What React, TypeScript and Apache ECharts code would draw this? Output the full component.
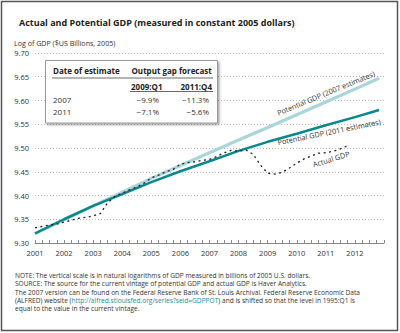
import React, { useEffect, useRef } from "react";
import * as echarts from "echarts";

// ---- Data ----
const potentialYears = [2001, 2002, 2003, 2004, 2005, 2006, 2007, 2008, 2009, 2010, 2011, 2012, 2012.83];
const potential2007 = [9.320, 9.349, 9.378, 9.407, 9.436, 9.463, 9.490, 9.517, 9.543, 9.570, 9.597, 9.624, 9.647];
const potential2011 = [9.320, 9.350, 9.378, 9.403, 9.428, 9.451, 9.472, 9.494, 9.513, 9.530, 9.548, 9.565, 9.580];

const actualStartYear = 2001; // quarterly observations, 2001:Q1 .. 2011:Q4
const actualGDP = [
  9.332, 9.335, 9.338, 9.340,
  9.344, 9.348, 9.352, 9.354,
  9.357, 9.362, 9.385, 9.398,
  9.405, 9.412, 9.418, 9.426,
  9.437, 9.443, 9.450, 9.455,
  9.466, 9.469, 9.471, 9.474,
  9.476, 9.482, 9.490, 9.495,
  9.493, 9.496, 9.487, 9.464,
  9.447, 9.445, 9.449, 9.458,
  9.468, 9.477, 9.483, 9.489,
  9.490, 9.493, 9.498, 9.505,
];

const xTickYears = [2001, 2002, 2003, 2004, 2005, 2006, 2007, 2008, 2009, 2010, 2011, 2012];

const tableHeader = ["Date of estimate", "Output gap forecast"];
const tableSubHeader = ["2009:Q1", "2011:Q4"];
const tableRows = [
  ["2007", "\u22129.9%", "\u221211.3%"],
  ["2011", "\u22127.1%", "\u22125.6%"],
];

const footnotes = [
  "NOTE: The vertical scale is in natural logarithms of GDP measured in billions of 2005 U.S. dollars.",
  "SOURCE: The source for the current vintage of potential GDP and actual GDP is Haver Analytics.",
  "The 2007 version can be found on the Federal Reserve Bank of St. Louis Archival. Federal Reserve Economic Data",
];
const footLine4 = ["(ALFRED) website (", "http://alfred.stlouisfed.org/series?seid=GDPPOT", ") and is shifted so that the level in 1995:Q1 is"];
const footLine5 = "equal to the value in the current vintage.";

const FONT = "'Open Sans', 'Noto Sans', sans-serif";
const LIGHT = "#a8d6d9";
const TEAL = "#08888d";

export default function App() {
  const ref = useRef<HTMLDivElement>(null);
  useEffect(() => {
    document.body.style.margin = "0";
    const chart = echarts.init(ref.current!, null, { renderer: "svg" });
    const actualData = actualGDP.map((v, i) => [actualStartYear + i / 4, v]);
    chart.setOption({
      animation: false,
      backgroundColor: "#fff",
      textStyle: { fontFamily: FONT },
      title: {
        text: "Actual and Potential GDP (measured in constant 2005 dollars)",
        left: 14,
        top: 13,
        textStyle: { fontSize: 9, fontWeight: "bold", color: "#222", fontFamily: FONT },
      },
      grid: { left: 35, right: 16, top: 53, bottom: 90 },
      xAxis: {
        type: "value",
        min: 2001,
        max: 2013,
        interval: 1,
        axisLine: { lineStyle: { color: "#888", width: 1 } },
        axisTick: { inside: true, length: 3, lineStyle: { color: "#888" } },
        minorTick: { show: true, splitNumber: 4, length: 3, lineStyle: { color: "#888" } },
        splitLine: { show: false },
        axisLabel: {
          formatter: (v: number) => (xTickYears.includes(v) ? String(v) : ""),
          fontSize: 7.5,
          color: "#333",
          margin: 6,
        },
      },
      yAxis: {
        type: "value",
        min: 9.3,
        max: 9.7,
        interval: 0.05,
        axisLine: { show: false },
        axisTick: { show: false },
        splitLine: { lineStyle: { type: [1, 2], color: "#aaa", width: 0.8 } },
        axisLabel: {
          formatter: (v: number) => v.toFixed(2),
          fontSize: 7.5,
          color: "#333",
          margin: 6,
        },
      },
      series: [
        {
          name: "Potential GDP (2007 estimates)",
          type: "line",
          data: potentialYears.map((y, i) => [y, potential2007[i]]),
          showSymbol: false,
          lineStyle: { color: LIGHT, width: 3.2 },
          z: 2,
        },
        {
          name: "Potential GDP (2011 estimates)",
          type: "line",
          data: potentialYears.map((y, i) => [y, potential2011[i]]),
          showSymbol: false,
          lineStyle: { color: TEAL, width: 2.5 },
          z: 3,
        },
        {
          name: "Actual GDP",
          type: "line",
          data: actualData,
          showSymbol: false,
          lineStyle: { color: "#222", width: 1.3, type: [2, 3.5] },
          z: 4,
        },
      ],
    });

    const px = (x: number, y: number) => chart.convertToPixel({ gridIndex: 0 }, [x, y]) as number[];
    const p1 = px(2011.0, 9.616);
    const p2 = px(2011.11, 9.534);
    const p3 = px(2011.18, 9.477);
    const annStyle = { fontSize: 7.3, fill: "#333", fontFamily: FONT, align: "center", verticalAlign: "middle" };
    const bold = { fontFamily: FONT, fontSize: 8, fontWeight: "bold", fill: "#222", verticalAlign: "middle" };
    const norm = { fontFamily: FONT, fontSize: 8, fill: "#333", verticalAlign: "middle" };
    const footStyle = { fontFamily: FONT, fontSize: 6.6, fill: "#333", verticalAlign: "middle" };

    chart.setOption({
      graphic: [
        { type: "rect", shape: { x: 1.5, y: 1.5, width: 396, height: 329 }, style: { fill: "none", stroke: "#555", lineWidth: 1.5 }, z: 100 },
        { type: "text", x: 14, y: 43, style: { text: "Log of GDP ($US Billions, 2005)", fontFamily: FONT, fontSize: 7.1, fill: "#333", verticalAlign: "middle" } },
        { type: "text", x: p1[0], y: p1[1], rotation: (22.4 * Math.PI) / 180, style: { text: "Potential GDP (2007 estimates)", ...annStyle } },
        { type: "text", x: p2[0], y: p2[1], rotation: (11.5 * Math.PI) / 180, style: { text: "Potential GDP (2011 estimates)", ...annStyle } },
        { type: "text", x: p3[0], y: p3[1], rotation: (17 * Math.PI) / 180, style: { text: "Actual GDP", ...annStyle } },
        // table box
        {
          type: "rect",
          shape: { x: 45.5, y: 60.5, width: 172, height: 62.5 },
          style: { fill: "#fff", stroke: "#999", lineWidth: 1, shadowBlur: 2, shadowOffsetX: 1.5, shadowOffsetY: 1.5, shadowColor: "rgba(0,0,0,0.35)" },
          z: 10,
        },
        { type: "text", x: 53, y: 70, z: 11, style: { text: tableHeader[0], ...bold } },
        { type: "text", x: 131.5, y: 70, z: 11, style: { text: tableHeader[1], ...bold } },
        { type: "line", z: 11, shape: { x1: 52, y1: 78, x2: 213, y2: 78 }, style: { stroke: "#444", lineWidth: 0.8 } },
        { type: "text", x: 131, y: 86, z: 11, style: { text: tableSubHeader[0], ...bold } },
        { type: "text", x: 180.5, y: 86, z: 11, style: { text: tableSubHeader[1], ...bold } },
        { type: "line", z: 11, shape: { x1: 130, y1: 91.5, x2: 213, y2: 91.5 }, style: { stroke: "#444", lineWidth: 0.8 } },
        ...tableRows.flatMap((row, i) => [
          { type: "text", x: 53, y: 99.5 + i * 12, z: 11, style: { text: row[0], ...norm } },
          { type: "text", x: 159, y: 99.5 + i * 12, z: 11, style: { text: row[1], ...norm, align: "right" } },
          { type: "text", x: 209, y: 99.5 + i * 12, z: 11, style: { text: row[2], ...norm, align: "right" } },
        ]),
        ...footnotes.map((t, i) => ({ type: "text", x: 15, y: 275.5 + i * 8.3, style: { text: t, ...footStyle } })),
        {
          type: "text",
          x: 15,
          y: 275.5 + 3 * 8.3,
          style: {
            text: `{a|${footLine4[0]}}{b|${footLine4[1]}}{a|${footLine4[2]}}`,
            ...footStyle,
            rich: {
              a: { fontFamily: FONT, fontSize: 6.6, fill: "#333" },
              b: { fontFamily: FONT, fontSize: 6.6, fill: "#1a8d9a" },
            },
          },
        },
        { type: "text", x: 15, y: 275.5 + 4 * 8.3, style: { text: footLine5, ...footStyle } },
      ],
    });
    return () => chart.dispose();
  }, []);
  return <div ref={ref} style={{ position: "fixed", left: 0, top: 0, width: 400, height: 333 }} />;
}
